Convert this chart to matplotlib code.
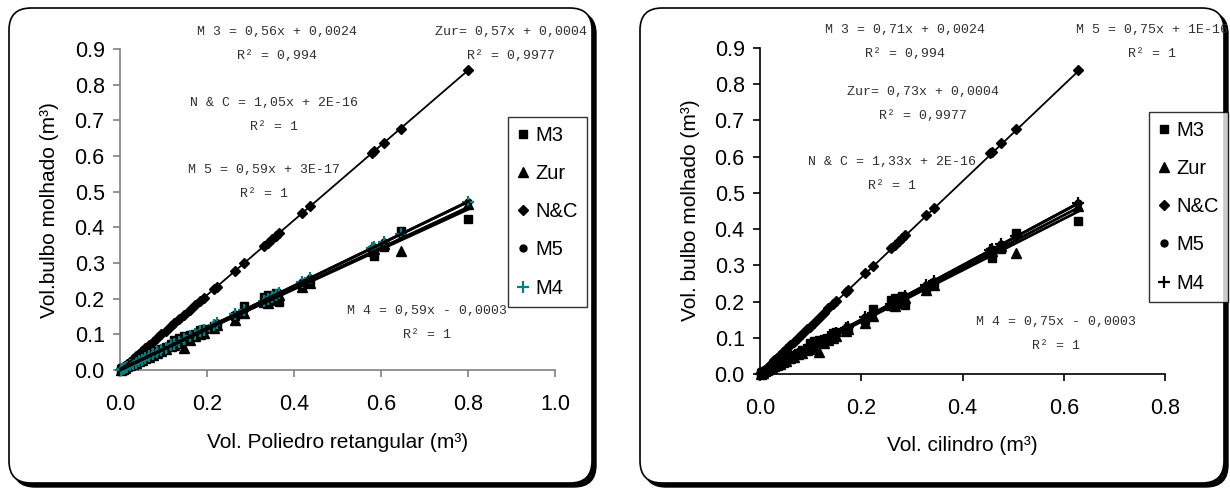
import matplotlib
matplotlib.use("Agg")
import matplotlib.pyplot as plt
from matplotlib.patches import FancyBboxPatch
from matplotlib.ticker import MultipleLocator, FormatStrFormatter
import numpy as np

# ---- data -------------------------------------------------------------
series_names = ["M3", "Zur", "N&C", "M5", "M4"]

# volume of the rectangular polyhedron (m3)
vol_retangular = [0.800, 0.645, 0.607, 0.585, 0.580, 0.437, 0.418, 0.365, 0.358, 0.350,
                  0.340, 0.330, 0.285, 0.265, 0.222, 0.215, 0.192, 0.185, 0.172, 0.160,
                  0.148, 0.135, 0.125, 0.118, 0.105, 0.095, 0.085, 0.075, 0.066, 0.058,
                  0.050, 0.043, 0.036, 0.029, 0.022, 0.016, 0.011, 0.007, 0.004, 0.002]

# volume of the cylinder (m3)
vol_cilindro = [0.628, 0.506, 0.477, 0.459, 0.455, 0.343, 0.328, 0.287, 0.281, 0.275,
                0.267, 0.259, 0.224, 0.208, 0.174, 0.169, 0.151, 0.145, 0.135, 0.126,
                0.116, 0.106, 0.098, 0.093, 0.082, 0.075, 0.067, 0.059, 0.052, 0.046,
                0.039, 0.034, 0.028, 0.023, 0.017, 0.013, 0.009, 0.005, 0.003, 0.002]

# wetted bulb volume by model (m3)
bulbo_m3 = [0.422, 0.390, 0.345, 0.320, 0.330, 0.250, 0.238, 0.190, 0.215, 0.200,
            0.210, 0.205, 0.180, 0.150, 0.128, 0.122, 0.115, 0.112, 0.100, 0.098,
            0.095, 0.090, 0.085, 0.072, 0.065, 0.058, 0.052, 0.046, 0.040, 0.035,
            0.031, 0.027, 0.023, 0.019, 0.015, 0.011, 0.009, 0.006, 0.005, 0.004]
bulbo_zur = [0.465, 0.335, 0.352, 0.340, 0.336, 0.245, 0.232, 0.210, 0.205, 0.195,
             0.188, 0.190, 0.160, 0.140, 0.125, 0.118, 0.105, 0.100, 0.095, 0.085,
             0.062, 0.075, 0.070, 0.066, 0.058, 0.054, 0.047, 0.043, 0.037, 0.033,
             0.028, 0.024, 0.021, 0.017, 0.013, 0.010, 0.007, 0.004, 0.003, 0.001]
bulbo_nc = [0.840, 0.677, 0.637, 0.614, 0.609, 0.459, 0.439, 0.383, 0.376, 0.368,
            0.357, 0.347, 0.299, 0.278, 0.233, 0.226, 0.202, 0.194, 0.181, 0.168,
            0.155, 0.142, 0.131, 0.124, 0.110, 0.100, 0.089, 0.079, 0.069, 0.061,
            0.053, 0.045, 0.038, 0.030, 0.023, 0.017, 0.012, 0.007, 0.004, 0.002]
bulbo_m5 = [0.472, 0.381, 0.358, 0.345, 0.342, 0.258, 0.247, 0.215, 0.211, 0.207,
            0.201, 0.195, 0.168, 0.156, 0.131, 0.127, 0.113, 0.109, 0.101, 0.094,
            0.087, 0.080, 0.074, 0.070, 0.062, 0.056, 0.050, 0.044, 0.039, 0.034,
            0.030, 0.025, 0.021, 0.017, 0.013, 0.009, 0.006, 0.004, 0.002, 0.001]
bulbo_m4 = [0.472, 0.380, 0.358, 0.345, 0.342, 0.258, 0.246, 0.215, 0.211, 0.206,
            0.200, 0.194, 0.168, 0.156, 0.131, 0.127, 0.113, 0.109, 0.101, 0.094,
            0.087, 0.079, 0.073, 0.069, 0.062, 0.056, 0.050, 0.044, 0.039, 0.034,
            0.029, 0.025, 0.021, 0.017, 0.013, 0.009, 0.006, 0.004, 0.002, 0.001]

# linear trendlines (slope, intercept)
trend_retangular = [(0.56, 0.0024), (0.57, 0.0004), (1.05, 2e-16), (0.59, 3e-17), (0.59, -0.0003)]
trend_cilindro = [(0.71, 0.0024), (0.73, 0.0004), (1.33, 2e-16), (0.75, 1e-16), (0.75, -0.0003)]

eq_retangular = [("M 3 = 0,56x + 0,0024", "R² = 0,994"),
                 ("Zur= 0,57x + 0,0004", "R² = 0,9977"),
                 ("N & C = 1,05x + 2E-16", "R² = 1"),
                 ("M 5 = 0,59x + 3E-17", "R² = 1"),
                 ("M 4 = 0,59x - 0,0003", "R² = 1")]
eq_cilindro = [("M 3 = 0,71x + 0,0024", "R² = 0,994"),
               ("Zur= 0,73x + 0,0004", "R² = 0,9977"),
               ("N & C = 1,33x + 2E-16", "R² = 1"),
               ("M 5 = 0,75x + 1E-16", "R² = 1"),
               ("M 4 = 0,75x - 0,0003", "R² = 1")]

# equation label centres in pixels (x, y of first line)
eq_pos_retangular = [(277, 32), (511, 32), (274, 103), (264, 170), (427, 311)]
eq_pos_cilindro = [(905, 30), (923, 92), (892, 162), (1152, 30), (1056, 322)]

bulbo = [bulbo_m3, bulbo_zur, bulbo_nc, bulbo_m5, bulbo_m4]

# ---- figure -----------------------------------------------------------
W, H = 1230, 490
fig = plt.figure(figsize=(W / 100, H / 100), dpi=100)
fig.patch.set_facecolor("white")

plt.rcParams["font.family"] = ["Liberation Sans", "DejaVu Sans"]


def panel_box(x0, y0, x1, y1):
    """Rounded frame with a drop shadow, coordinates in pixels from top-left."""
    w = (x1 - x0) / 100
    h = (y1 - y0) / 100
    bx = x0 / 100
    by = (H - y1) / 100
    shadow = FancyBboxPatch((bx + 0.04, by - 0.04), w, h,
                            boxstyle="round,pad=0,rounding_size=0.22",
                            transform=fig.dpi_scale_trans,
                            facecolor="black", edgecolor="black", lw=1, zorder=-3)
    box = FancyBboxPatch((bx, by), w, h,
                         boxstyle="round,pad=0,rounding_size=0.22",
                         transform=fig.dpi_scale_trans,
                         facecolor="white", edgecolor="black", lw=1.2, zorder=-2)
    fig.add_artist(shadow)
    fig.add_artist(box)


panel_box(9, 8, 592, 483)
panel_box(640, 8, 1224, 483)

markers = [dict(marker="s", ms=5.5),
           dict(marker="^", ms=6.5),
           dict(marker="D", ms=5.5),
           dict(marker="o", ms=5),
           dict(marker="+", ms=8, mew=1.6)]
trend_lw = [2.0, 2.0, 1.3, 2.0, 2.0]


def px_axes(x0, x1, y0, y1):
    return fig.add_axes([x0 / W, 1 - y0 / H, (x1 - x0) / W, (y0 - y1) / H])


def draw_panel(ax, xs, trends, eqs, eq_pos, xmax, xlabel, ylabel, spine_color,
               m4_color, legend_xy, ylabel_x, xlabel_y):
    ax.set_facecolor("none")
    for i, (name, ys) in enumerate(zip(series_names, bulbo)):
        color = m4_color if name == "M4" else "black"
        ax.plot(xs, ys, linestyle="none", color=color, mec=color, mfc=color,
                label=name, zorder=3 + i * 0.1, clip_on=False, **markers[i])
    for (slope, icpt), lw in zip(trends, trend_lw):
        xx = np.array([min(xs), max(xs)])
        ax.plot(xx, slope * xx + icpt, color="black", lw=lw, zorder=4, clip_on=False)

    ax.set_xlim(0, xmax)
    ax.set_ylim(0, 0.9)
    ax.xaxis.set_major_locator(MultipleLocator(0.2))
    ax.yaxis.set_major_locator(MultipleLocator(0.1))
    ax.xaxis.set_major_formatter(FormatStrFormatter("%.1f"))
    ax.yaxis.set_major_formatter(FormatStrFormatter("%.1f"))
    for s in ("top", "right"):
        ax.spines[s].set_visible(False)
    for s in ("left", "bottom"):
        ax.spines[s].set_color(spine_color)
        ax.spines[s].set_linewidth(1.2)
    ax.tick_params(direction="out", length=5, width=1.2, color=spine_color,
                   labelsize=15.5, labelcolor="black")
    ax.tick_params(axis="x", pad=12)
    ax.tick_params(axis="y", pad=6)

    fig.text(ylabel_x / W, 1 - 210 / H, ylabel, rotation=90, ha="center", va="center",
             fontsize=15)
    bbox = ax.get_position()
    fig.text((bbox.x0 + bbox.x1) / 2, 1 - xlabel_y / H, xlabel, ha="center", va="center",
             fontsize=15)

    for (l1, l2), (px, py) in zip(eqs, eq_pos):
        fig.text(px / W, 1 - py / H, l1, ha="center", va="center",
                 family="Liberation Mono", fontsize=9.5, color="#303030")
        fig.text(px / W, 1 - (py + 24) / H, l2, ha="center", va="center",
                 family="Liberation Mono", fontsize=9.5, color="#303030")

    leg = ax.legend(loc="upper left", bbox_to_anchor=(legend_xy[0] / W, 1 - legend_xy[1] / H),
                    bbox_transform=fig.transFigure, frameon=True, fancybox=False,
                    edgecolor="black", fontsize=14.5, handlelength=0.6, handletextpad=0.3,
                    labelspacing=0.95, borderpad=0.45, borderaxespad=0, numpoints=1)
    leg.get_frame().set_linewidth(1.0)
    for t in leg.get_texts():
        t.set_color("black")


ax1 = px_axes(120, 555, 370, 49)
draw_panel(ax1, vol_retangular, trend_retangular, eq_retangular, eq_pos_retangular, 1.0,
           "Vol. Poliedro retangular (m³)", "Vol.bulbo molhado (m³)", "#808080",
           "#008080", (508, 117), 50, 443)

ax2 = px_axes(760, 1165, 374, 48)
draw_panel(ax2, vol_cilindro, trend_cilindro, eq_cilindro, eq_pos_cilindro, 0.8,
           "Vol. cilindro (m³)", "Vol. bulbo molhado (m³)", "black",
           "black", (1149, 112), 690, 445)

fig.savefig("out.png", dpi=100, facecolor="white")
